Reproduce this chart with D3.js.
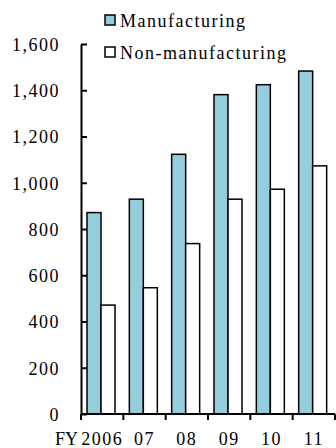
<!DOCTYPE html>
<html>
<head>
<meta charset="utf-8">
<script src="https://cdn.jsdelivr.net/npm/d3@7"></script>
<style>
  svg#chart text { font-family: "Liberation Serif", "Times New Roman", Tinos, serif !important; }
</style>
</head>
<body style="margin:0;background:#fff">
<svg id="chart" width="336" height="448" font-family="Liberation Serif"></svg>
<script>
// Fiscal years and values per sector
const years = ["2006", "07", "08", "09", "10", "11"];
const series = ["Manufacturing", "Non-manufacturing"];
const manufacturing = [871, 929, 1123, 1381, 1424, 1483];
const nonManufacturing = [471, 546, 737, 929, 972, 1073];
const yTicks = [0, 200, 400, 600, 800, 1000, 1200, 1400, 1600];
const colors = { "Manufacturing": "#94cedd", "Non-manufacturing": "#ffffff" };

const rows = years.map((y, i) => ({ year: y, "Manufacturing": manufacturing[i], "Non-manufacturing": nonManufacturing[i] }));

const svg = d3.select("#chart");
const plotLeft = 81, plotRight = 335, plotTop = 44, plotBottom = 414;

const x = d3.scaleBand().domain(years).range([plotLeft, plotRight]);
const xs = d3.scaleBand().domain(series).range([6, 34]);
const y = d3.scaleLinear().domain([0, 1600]).range([plotBottom, plotTop]);

function serif(sel, spacing) {
  sel.attr("font-family", "Liberation Serif")
     .style("font-family", "'Liberation Serif', 'Times New Roman', serif", "important")
     .style("font-size", "18px", "important")
     .style("letter-spacing", (spacing == null ? 1.5 : spacing) + "px");
}

// Bars
const groups = svg.append("g").selectAll("g").data(rows).join("g")
  .attr("transform", d => `translate(${x(d.year)},0)`);
groups.selectAll("rect").data(d => series.map(s => ({ s, v: d[s] }))).join("rect")
  .attr("x", d => xs(d.s))
  .attr("width", xs.bandwidth())
  .attr("y", d => y(d.v))
  .attr("height", d => y(0) - y(d.v))
  .attr("fill", d => colors[d.s])
  .attr("stroke", "#000")
  .attr("stroke-width", 1.5);

// Y axis with inward ticks
const yAxis = svg.append("g").attr("transform", `translate(${plotLeft},0)`)
  .call(d3.axisLeft(y).tickValues(yTicks).tickFormat(d3.format(",")).tickSizeInner(-6).tickSizeOuter(0).tickPadding(21));
yAxis.attr("font-family", "Liberation Serif").attr("font-size", 18);
yAxis.select(".domain").attr("stroke", "#000").attr("stroke-width", 2);
yAxis.selectAll(".tick line").attr("stroke", "#000").attr("stroke-width", 2);
yAxis.selectAll(".tick text").attr("dy", "0.35em").attr("fill", "#000").call(serif);

// X axis with boundary ticks between years
const xAxisG = svg.append("g").attr("transform", `translate(0,${plotBottom})`);
xAxisG.append("line").attr("x1", plotLeft).attr("x2", plotRight).attr("stroke", "#000").attr("stroke-width", 2);
const bounds = years.map(d => x(d)).concat([x(years[years.length - 1]) + x.bandwidth()]);
xAxisG.selectAll("line.tick").data(bounds).join("line").attr("class", "tick")
  .attr("x1", d => d).attr("x2", d => d).attr("y1", 0).attr("y2", 6)
  .attr("stroke", "#000").attr("stroke-width", 2);
xAxisG.selectAll("text.lab").data(years).join("text").attr("class", "lab")
  .attr("x", d => x(d) + x.bandwidth() / 2).attr("y", 31).attr("text-anchor", "middle")
  .text(d => d).call(serif);
xAxisG.append("text").attr("x", 55).attr("y", 31).text("FY").call(serif, 0);

// Legend
const legend = svg.append("g").selectAll("g").data(series).join("g")
  .attr("transform", (d, i) => `translate(105,${15 + i * 32})`);
legend.append("rect").attr("width", 10).attr("height", 10)
  .attr("fill", d => colors[d]).attr("stroke", "#000").attr("stroke-width", 1.5);
legend.append("text").attr("x", 15).attr("y", 12).text(d => d).call(serif);
</script>
</body>
</html>
